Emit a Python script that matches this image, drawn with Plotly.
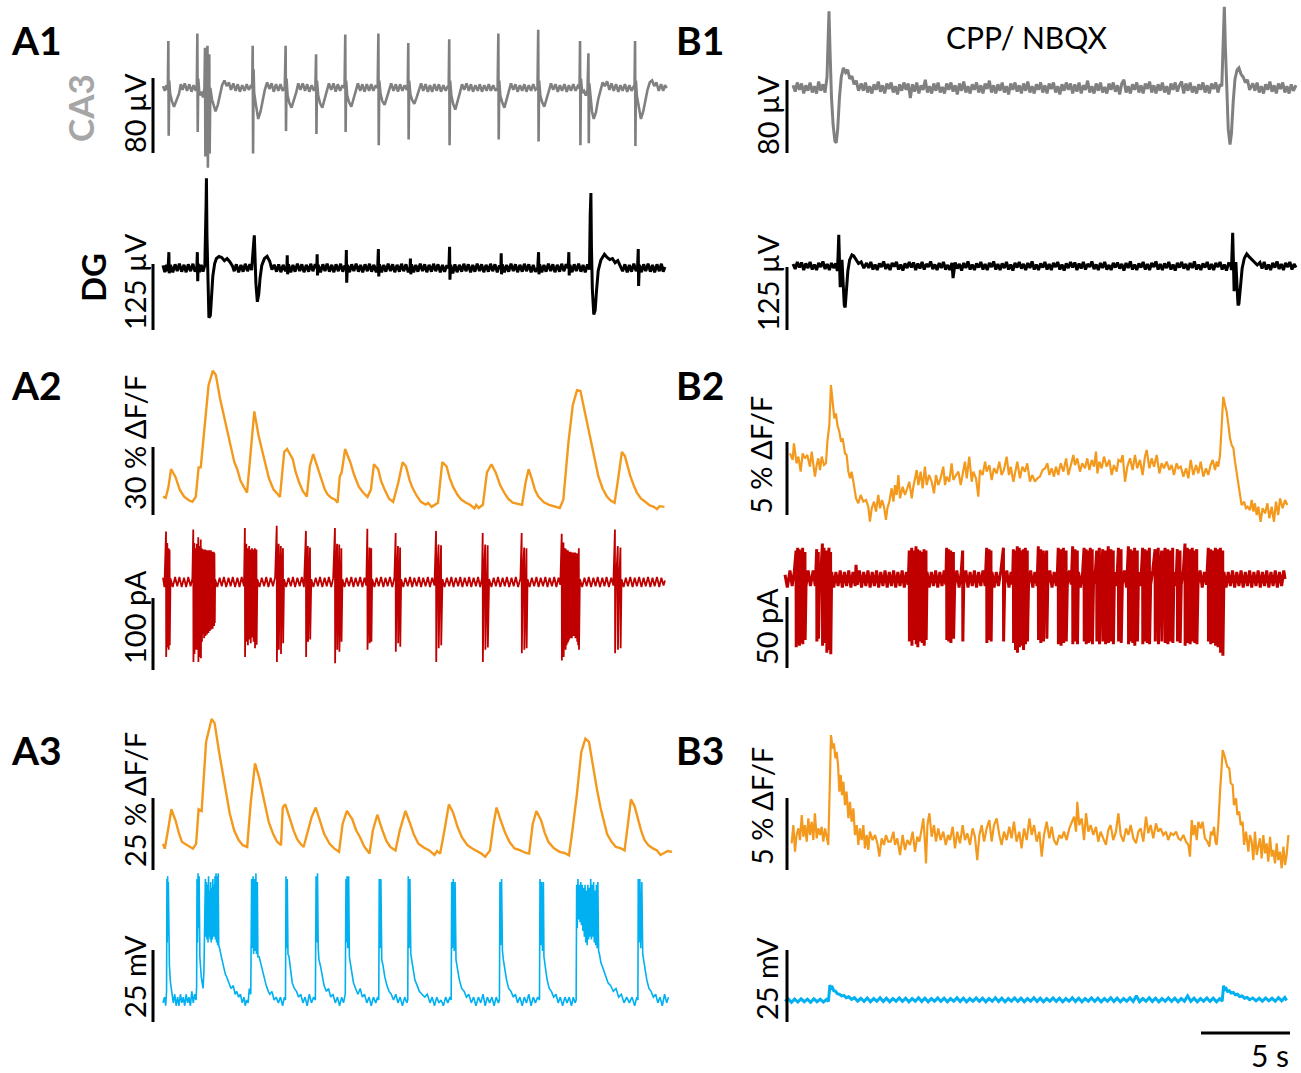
import plotly.graph_objects as go

W, H = 1301, 1073

# ---------------- data (time in s, values in physical units) ----------------
A1_CA3 = [(0.00, 2), (0.10, -3), (0.20, 3), (0.27, -2),
    (0.30, 50), (0.32, -51), (0.35, 8), (0.40, -6), (0.50, -14), (0.62, -20), (0.75, -14), (0.90, -6), (1.00, 4), (1.10, -2), (1.22, 5), (1.35, -3), (1.48, 4), (1.60, -4), (1.72, 3), (1.84, -3), (1.90, 2),
    (1.93, 58), (1.95, -47), (1.98, 10), (2.05, -8), (2.15, -4), (2.25, -10), (2.33, 0),
    (2.36, 43), (2.38, -73), (2.42, 20), (2.50, 45), (2.52, -85), (2.56, 10), (2.60, 36), (2.62, -70), (2.66, 0), (2.75, -12), (2.85, -20), (2.95, -25), (3.08, -18), (3.20, -8), (3.32, 3), (3.45, 8), (3.58, 2), (3.70, 6), (3.82, -2), (3.95, 5), (4.08, -3), (4.20, 4), (4.32, -4), (4.45, 3), (4.58, -3), (4.70, 4), (4.82, -2), (4.95, 3), (5.01, 0),
    (5.04, 45), (5.06, -70), (5.09, 20), (5.12, -5), (5.22, -18), (5.35, -33), (5.48, -25), (5.60, -12), (5.72, -2), (5.85, 6), (5.98, -1), (6.10, 5), (6.22, -4), (6.35, 4), (6.48, -3), (6.60, 4), (6.72, -3), (6.84, 1),
    (6.89, 45), (6.91, -46), (6.94, 10), (7.00, -8), (7.10, -16), (7.22, -21), (7.35, -14), (7.48, -5), (7.60, 5), (7.72, -2), (7.85, 5), (7.98, -3), (8.10, 4), (8.22, -4), (8.35, 3), (8.48, -3), (8.56, 1),
    (8.60, 36), (8.62, -49), (8.65, 8), (8.72, -8), (8.82, -16), (8.95, -21), (9.08, -12), (9.20, -3), (9.32, 5), (9.45, -2), (9.58, 5), (9.70, -4), (9.82, 4), (9.95, -3), (10.08, 3), (10.20, 0),
    (10.24, 57), (10.26, -47), (10.29, 8), (10.35, -8), (10.45, -15), (10.58, -20), (10.70, -12), (10.82, -3), (10.95, 5), (11.08, -3), (11.20, 4), (11.32, -4), (11.45, 4), (11.58, -3), (11.70, 4), (11.82, -3), (11.95, 3), (12.06, 0),
    (12.10, 58), (12.12, -61), (12.15, 8), (12.22, -6), (12.32, -14), (12.45, -18), (12.58, -10), (12.70, -2), (12.82, 5), (12.95, -3), (13.08, 4), (13.20, -4), (13.32, 4), (13.45, -3), (13.58, 3), (13.70, -2), (13.75, 0),
    (13.78, 48), (13.80, -55), (13.83, 8), (13.90, -7), (14.00, -13), (14.12, -17), (14.25, -10), (14.38, -2), (14.50, 5), (14.62, -3), (14.75, 4), (14.88, -4), (15.00, 3), (15.12, -4), (15.25, 4), (15.38, -3), (15.50, 4), (15.62, -4), (15.75, 3), (15.88, -3), (16.00, 2), (16.05, 0),
    (16.08, 52), (16.10, -61), (16.13, 8), (16.20, -8), (16.30, -17), (16.42, -23), (16.55, -15), (16.68, -5), (16.80, 4), (16.92, -2), (17.05, 5), (17.18, -3), (17.30, 4), (17.42, -4), (17.55, 3), (17.68, -3), (17.80, 4), (17.92, -4), (18.05, 3), (18.18, -3), (18.30, 4), (18.42, -3), (18.55, 3), (18.68, -3), (18.80, 0),
    (18.84, 58), (18.86, -55), (18.89, 8), (18.95, -8), (19.05, -15), (19.18, -21), (19.30, -13), (19.42, -4), (19.55, 5), (19.68, -2), (19.80, 4), (19.92, -4), (20.05, 3), (20.18, -3), (20.30, 4), (20.42, -4), (20.55, 3), (20.68, -3), (20.80, 4), (20.92, -2), (21.04, 0),
    (21.08, 62), (21.10, -57), (21.13, 8), (21.20, -8), (21.30, -15), (21.42, -20), (21.55, -12), (21.68, -3), (21.80, 5), (21.92, -2), (22.05, 4), (22.18, -4), (22.30, 3), (22.42, -3), (22.55, 4), (22.68, -4), (22.80, 3), (22.92, -3), (23.05, 4), (23.18, -3), (23.30, 2), (23.40, 0),
    (23.43, 50), (23.45, -61), (23.48, 10), (23.55, -5), (23.65, -3), (23.75, -8), (23.85, -2), (23.90, 37), (23.92, -59), (23.95, 5), (24.02, -12), (24.10, -25), (24.20, -33), (24.32, -26), (24.45, -12), (24.58, -2), (24.70, 6), (24.82, 2), (24.95, 7), (25.08, -2), (25.20, 5), (25.32, -3), (25.45, 4), (25.58, -4), (25.70, 3), (25.82, -3), (25.95, 4), (26.08, -4), (26.20, 3), (26.32, -3), (26.45, 2), (26.49, 0),
    (26.52, 50), (26.54, -62), (26.57, 8), (26.62, -8), (26.72, -20), (26.85, -33), (26.98, -25), (27.10, -12), (27.22, -2), (27.35, 6), (27.48, 8), (27.60, 2), (27.72, 6), (27.85, -3), (27.98, 4), (28.10, -3), (28.20, 3), (28.30, 0)]

A1_DG = [(0.00, 5), (0.10, -8), (0.20, 6), (0.28, -6),
    (0.33, 30), (0.35, -10), (0.42, 6), (0.55, -8), (0.68, 7), (0.80, -6), (0.92, 8), (1.05, -7), (1.18, 6), (1.30, -8), (1.42, 7), (1.55, -6), (1.68, 8), (1.80, -7), (1.90, 0),
    (1.93, 30), (1.95, -25), (1.98, 8), (2.05, -8), (2.15, 6), (2.25, -7), (2.35, 5),
    (2.42, 120), (2.44, 170), (2.47, 60), (2.52, -40), (2.58, -94), (2.66, -90), (2.72, -60), (2.80, -15), (2.90, 8), (3.00, 18), (3.15, 22), (3.30, 20), (3.45, 14), (3.60, 18), (3.75, 12), (3.90, 4), (4.00, -6), (4.12, 7), (4.25, -8), (4.38, 6), (4.50, -7), (4.62, 8), (4.75, -6), (4.88, 7), (4.98, -4),
    (5.05, 20), (5.10, 50), (5.13, 62), (5.16, 10), (5.22, -30), (5.30, -64), (5.38, -50), (5.45, -20), (5.55, 5), (5.70, 18), (5.85, 22), (6.00, 12), (6.12, -3), (6.25, 6), (6.38, -7), (6.50, 7), (6.62, -8), (6.75, 6), (6.88, -6), (6.96, 0),
    (6.98, 24), (7.00, -12), (7.05, 7), (7.18, -8), (7.30, 6), (7.42, -7), (7.55, 8), (7.68, -6), (7.80, 7), (7.92, -8), (8.05, 6), (8.18, -7), (8.30, 8), (8.42, -6), (8.55, 7), (8.64, 0),
    (8.66, 26), (8.68, -14), (8.72, 6), (8.85, -8), (8.98, 7), (9.10, -6), (9.22, 8), (9.35, -7), (9.48, 6), (9.60, -8), (9.72, 7), (9.85, -6), (9.98, 8), (10.10, -7), (10.22, 5), (10.28, 0),
    (10.30, 34), (10.32, -28), (10.36, 6), (10.48, -8), (10.60, 7), (10.72, -6), (10.85, 8), (10.98, -7), (11.10, 6), (11.22, -8), (11.35, 7), (11.48, -6), (11.60, 8), (11.72, -7), (11.85, 6), (11.98, -8), (12.06, 0),
    (12.10, 36), (12.12, -16), (12.16, 7), (12.28, -8), (12.40, 6), (12.52, -7), (12.65, 8), (12.78, -6), (12.90, 7), (13.02, -8), (13.15, 6), (13.28, -7), (13.40, 8), (13.52, -6), (13.65, 7), (13.78, -8), (13.88, 0),
    (13.90, 18), (13.92, -12), (13.96, 7), (14.08, -8), (14.20, 6), (14.32, -7), (14.45, 8), (14.58, -6), (14.70, 7), (14.82, -8), (14.95, 6), (15.08, -7), (15.20, 8), (15.32, -6), (15.45, 7), (15.58, -8), (15.70, 6), (15.82, -7), (15.95, 5), (16.06, 0),
    (16.10, 40), (16.12, -22), (16.16, 6), (16.28, -10), (16.40, 7), (16.52, -8), (16.65, 6), (16.78, -7), (16.90, 8), (17.02, -6), (17.15, 7), (17.28, -8), (17.40, 6), (17.52, -7), (17.65, 8), (17.78, -6), (17.90, 7), (18.02, -8), (18.15, 6), (18.28, -7), (18.40, 8), (18.52, -6), (18.65, 7), (18.78, -8), (18.90, 5), (18.98, 0),
    (19.00, 28), (19.02, -12), (19.06, 7), (19.18, -8), (19.30, 6), (19.42, -7), (19.55, 8), (19.68, -6), (19.80, 7), (19.92, -8), (20.05, 6), (20.18, -7), (20.30, 8), (20.42, -6), (20.55, 7), (20.68, -8), (20.80, 6), (20.92, -7), (21.05, 0),
    (21.10, 30), (21.12, -12), (21.16, 7), (21.28, -8), (21.40, 6), (21.52, -7), (21.65, 8), (21.78, -6), (21.90, 7), (22.02, -8), (22.15, 6), (22.28, -7), (22.40, 8), (22.52, -6), (22.65, 7), (22.76, 0),
    (22.80, 30), (22.82, -14), (22.86, 6), (22.98, -8), (23.10, 7), (23.22, -6), (23.35, 8), (23.48, -7), (23.60, 6), (23.72, -8), (23.85, 7), (23.96, -3),
    (24.00, 100), (24.04, 142), (24.07, 40), (24.12, -40), (24.20, -88), (24.28, -80), (24.35, -45), (24.45, -5), (24.60, 15), (24.80, 26), (24.95, 20), (25.10, 16), (25.25, 18), (25.40, 10), (25.55, 14), (25.70, 4), (25.82, -6), (25.95, 7), (26.08, -8), (26.20, 6), (26.32, -7), (26.45, 8), (26.58, -6), (26.66, 0),
    (26.70, 36), (26.72, -34), (26.76, 6), (26.88, -8), (27.00, 7), (27.12, -6), (27.25, 8), (27.38, -7), (27.50, 6), (27.62, -8), (27.75, 7), (27.88, -6), (28.00, 8), (28.10, -7), (28.20, 2)]

A2_CA = [(0.00, 8.1), (0.15, 7.6), (0.30, 12.0), (0.45, 20.2), (0.69, 17.0), (0.94, 11.2), (1.19, 8.1), (1.32, 7.2), (1.45, 6.5), (1.65, 5.8), (1.84, 8.0), (2.00, 21.0), (2.12, 21.0), (2.31, 36.7), (2.56, 57.3), (2.80, 63.6), (2.97, 61.8), (3.20, 51.5), (3.45, 42.6), (3.62, 36.0), (3.81, 29.1), (4.00, 23.5), (4.17, 20.2), (4.35, 15.2), (4.53, 12.5), (4.72, 9.9),
    (4.89, 24.6), (5.13, 45.7), (5.37, 35.0), (5.55, 28.5), (5.73, 23.3), (5.95, 16.2), (6.21, 11.2), (6.40, 9.6), (6.57, 8.0), (6.81, 27.8), (6.97, 29.1), (7.29, 24.6), (7.45, 19.0), (7.65, 14.3), (7.85, 10.6), (8.08, 8.1),
    (8.25, 21.5), (8.44, 26.9), (8.72, 20.2), (8.90, 15.0), (9.09, 11.2), (9.25, 9.0), (9.45, 7.6), (9.65, 6.9), (9.81, 5.4), (9.93, 17.0), (10.04, 18.8), (10.23, 29.1), (10.52, 23.3), (10.75, 17.4), (11.00, 12.5), (11.25, 9.8), (11.49, 8.0),
    (11.68, 11.2), (11.85, 22.4), (12.09, 20.2), (12.25, 15.0), (12.45, 11.2), (12.70, 7.2), (12.93, 5.8), (13.22, 14.3), (13.46, 23.3), (13.65, 21.5), (13.85, 15.5), (14.01, 12.1), (14.25, 8.5), (14.49, 5.8), (14.75, 4.6), (14.90, 5.3), (15.09, 3.6), (15.30, 4.8), (15.45, 5.4),
    (15.69, 23.3), (15.93, 21.5), (16.10, 16.5), (16.29, 12.5), (16.55, 8.8), (16.77, 6.7), (17.00, 5.5), (17.25, 4.5), (17.50, 2.9), (17.60, 4.4), (17.73, 3.1), (17.97, 4.5), (18.20, 18.8), (18.45, 22.4), (18.69, 18.8), (18.95, 13.0), (19.17, 9.9), (19.40, 7.1), (19.65, 5.4), (19.90, 5.0), (20.17, 4.5),
    (20.37, 14.3), (20.54, 20.2), (20.73, 15.7), (20.90, 11.0), (21.09, 8.1), (21.40, 5.6), (21.69, 4.5), (22.00, 3.8), (22.29, 3.1), (22.49, 6.7), (22.78, 32.3), (23.02, 48.4), (23.26, 55.1), (23.45, 54.7), (23.74, 43.9), (24.10, 29.1), (24.30, 22.0), (24.46, 17.0), (24.70, 11.6), (24.94, 8.1), (25.15, 6.4), (25.37, 5.4),
    (25.54, 14.3), (25.78, 27.8), (25.95, 26.0), (26.26, 17.0), (26.45, 13.0), (26.62, 9.9), (26.85, 7.3), (27.10, 5.8), (27.35, 4.2), (27.58, 3.6), (27.75, 2.6), (27.90, 3.9), (28.17, 3.6)]

A2_PA = [(0.00, 6), (0.08, -7),
    (0.17, 70), (0.18, -104), (0.21, 6), (0.24, 54), (0.25, -91), (0.28, 5), (0.31, 47), (0.32, -94), (0.35, -6), (0.37, 45), (0.38, -88), (0.42, 5),
    (0.55, -7), (0.68, 7), (0.80, -6), (0.92, 7), (1.05, -7), (1.18, 6), (1.30, -7), (1.42, 7), (1.55, -6), (1.65, 5),
    (1.70, 73), (1.71, -111), (1.74, 6), (1.76, 54), (1.77, -100), (1.80, -5), (1.82, 47), (1.83, -94), (1.86, 6), (1.90, 53), (1.91, -94), (1.94, -6), (1.98, 62), (1.99, -111), (2.02, 6), (2.05, 50), (2.06, -104), (2.09, -5), (2.12, 59), (2.13, -106), (2.15, 0),
    (2.17, 47), (2.19, -83), (2.21, 45), (2.23, -80), (2.25, 42), (2.27, -73), (2.29, 45), (2.31, -78), (2.33, 44), (2.35, -71), (2.37, 45), (2.39, -75), (2.41, 42), (2.43, -68), (2.45, 44), (2.47, -73), (2.49, 42), (2.51, -66), (2.53, 44), (2.55, -71), (2.57, 42), (2.59, -65), (2.61, 44), (2.63, -68), (2.65, 42), (2.67, -64), (2.69, 44), (2.71, -66), (2.73, 41), (2.75, -61), (2.77, 42), (2.79, -65), (2.81, 41), (2.83, -59), (2.85, 42), (2.87, -61), (2.89, 40), (2.91, -57), (2.93, 4),
    (3.05, -7), (3.18, 6), (3.30, -6), (3.42, 7), (3.55, -7), (3.68, 6), (3.80, -6), (3.92, 7), (4.05, -7), (4.18, 6), (4.30, -7), (4.42, 7), (4.55, -6),
    (4.60, 75), (4.61, -104), (4.64, 6), (4.68, 53), (4.69, -83), (4.72, -5), (4.76, 47), (4.77, -88), (4.80, 5), (4.84, 50), (4.85, -80), (4.88, -4), (4.92, 45), (4.93, -85), (4.96, 5), (5.00, 47), (5.01, -77), (5.04, -5), (5.08, 45), (5.09, -83), (5.12, 5), (5.16, 47), (5.17, -92), (5.20, -4), (5.25, 45), (5.26, -87), (5.30, 4),
    (5.42, -7), (5.55, 6), (5.68, -6), (5.80, 7), (5.92, -7), (6.05, 6), (6.18, -6), (6.30, 7),
    (6.39, 78), (6.40, -111), (6.44, 6), (6.50, 53), (6.51, -94), (6.55, -5), (6.62, 50), (6.63, -100), (6.67, 5), (6.74, 47), (6.75, -85), (6.80, 4),
    (6.92, -7), (7.05, 6), (7.18, -6), (7.30, 7), (7.42, -7), (7.55, 6), (7.68, -6), (7.80, 7), (7.92, -7),
    (8.03, 71), (8.04, -104), (8.08, 5), (8.14, 50), (8.15, -83), (8.20, -5), (8.26, 48), (8.27, -80), (8.33, 4),
    (8.45, -7), (8.58, 6), (8.70, -6), (8.82, 7), (8.95, -7), (9.08, 6), (9.20, -6), (9.32, 7), (9.45, -7), (9.56, 5),
    (9.66, 75), (9.67, -113), (9.71, 6), (9.78, 53), (9.79, -94), (9.84, -5), (9.90, 52), (9.91, -97), (9.96, 5), (10.02, 47), (10.03, -83), (10.08, 4),
    (10.20, -7), (10.32, 6), (10.45, -6), (10.58, 7), (10.70, -7), (10.82, 6), (10.95, -6), (11.08, 7), (11.20, -7), (11.32, 6), (11.42, -5),
    (11.48, 74), (11.49, -94), (11.54, 5), (11.60, 48), (11.61, -85), (11.66, -5), (11.70, 47), (11.71, -83), (11.75, 4),
    (11.88, -7), (12.00, 6), (12.12, -6), (12.25, 7), (12.38, -7), (12.50, 6), (12.62, -6), (12.75, 7), (12.88, -7), (13.00, 6),
    (13.07, 68), (13.08, -97), (13.13, 5), (13.20, 50), (13.21, -85), (13.27, -5), (13.32, 48), (13.33, -90), (13.38, 4),
    (13.50, -7), (13.62, 6), (13.75, -6), (13.88, 7), (14.00, -7), (14.12, 6), (14.25, -6), (14.38, 7), (14.50, -7), (14.62, 6), (14.75, -6), (14.88, 7), (15.00, -7), (15.12, 6), (15.25, -5),
    (15.34, 71), (15.35, -111), (15.40, 6), (15.48, 52), (15.49, -92), (15.55, -5), (15.62, 51), (15.63, -88), (15.70, 4),
    (15.82, -7), (15.95, 6), (16.08, -6), (16.20, 7), (16.32, -7), (16.45, 6), (16.58, -6), (16.70, 7), (16.82, -7), (16.95, 6), (17.08, -6), (17.20, 7), (17.32, -7), (17.45, 6), (17.58, -6), (17.70, 7), (17.82, -7), (17.92, 5),
    (17.96, 68), (17.97, -111), (18.02, 6), (18.10, 52), (18.11, -94), (18.17, -5), (18.24, 51), (18.25, -91), (18.32, 4),
    (18.45, -7), (18.58, 6), (18.70, -6), (18.82, 7), (18.95, -7), (19.08, 6), (19.20, -6), (19.32, 7), (19.45, -7), (19.58, 6), (19.70, -6), (19.82, 7), (19.95, -7), (20.08, 5),
    (20.15, 68), (20.16, -99), (20.21, 6), (20.29, 48), (20.30, -94), (20.36, -5), (20.42, 47), (20.43, -92), (20.48, 4),
    (20.60, -7), (20.72, 6), (20.85, -6), (20.98, 7), (21.10, -7), (21.22, 6), (21.35, -6), (21.48, 7), (21.60, -7), (21.72, 6), (21.85, -6), (21.98, 7), (22.10, -7), (22.22, 6), (22.32, -4),
    (22.40, 67), (22.41, -109), (22.45, 5), (22.50, 55), (22.51, -104), (22.55, -4), (22.60, 47), (22.62, -94), (22.65, 45), (22.67, -88), (22.70, 42), (22.72, -85), (22.75, 44), (22.77, -83), (22.80, 42), (22.82, -80), (22.85, 41), (22.87, -78), (22.90, 42), (22.92, -75), (22.95, 41), (22.97, -78), (23.00, 40), (23.02, -73), (23.05, 41), (23.07, -75), (23.10, 40), (23.12, -71), (23.15, 41), (23.17, -78), (23.20, 39), (23.22, -73), (23.25, 40), (23.27, -83), (23.30, 39), (23.32, -88), (23.36, 47), (23.37, -94), (23.42, 4),
    (23.55, -7), (23.68, 6), (23.80, -6), (23.92, 7), (24.05, -7), (24.18, 6), (24.30, -6), (24.42, 7), (24.55, -7), (24.68, 6), (24.80, -6), (24.92, 7), (25.05, -7), (25.18, 6), (25.30, -5),
    (25.39, 73), (25.40, -99), (25.46, 6), (25.55, 50), (25.56, -94), (25.62, -5), (25.70, 48), (25.71, -92), (25.76, 4),
    (25.88, -7), (26.00, 6), (26.12, -6), (26.25, 7), (26.38, -7), (26.50, 6), (26.62, -6), (26.75, 7), (26.88, -7), (27.00, 6), (27.12, -6), (27.25, 7), (27.38, -7), (27.50, 6), (27.62, -6), (27.75, 7), (27.88, -7), (28.00, 6), (28.12, -5), (28.20, 2)]

A3_CA = [(0.00, 9.1), (0.10, 7.4), (0.30, 14.5), (0.47, 21.1), (0.71, 17.1), (0.90, 12.6), (1.07, 9.7), (1.30, 8.8), (1.50, 7.9), (1.68, 7.4), (1.86, 9.1), (2.00, 21.1), (2.17, 20.5), (2.42, 44.5), (2.73, 52.4), (2.90, 51.0), (3.15, 41.0), (3.51, 27.4), (3.75, 19.6), (4.00, 13.7), (4.25, 10.4), (4.48, 8.6), (4.73, 8.0),
    (4.92, 22.8), (5.17, 37.0), (5.41, 31.9), (5.75, 21.7), (5.95, 16.4), (6.19, 12.5), (6.40, 9.9), (6.63, 8.6), (6.73, 21.7), (6.87, 22.8), (7.15, 17.1), (7.35, 13.5), (7.53, 10.8), (7.70, 9.3), (7.90, 8.0),
    (8.34, 18.2), (8.58, 21.7), (8.82, 17.1), (9.05, 12.6), (9.36, 9.1), (9.60, 7.6), (9.89, 6.3), (10.09, 16.0), (10.33, 20.5), (10.63, 17.7), (10.85, 13.8), (11.07, 11.4), (11.30, 8.2), (11.60, 5.7),
    (11.79, 13.7), (12.04, 19.2), (12.33, 13.7), (12.55, 10.1), (12.77, 8.0), (13.06, 6.8), (13.30, 13.7), (13.62, 20.5), (13.86, 16.5), (14.10, 12.2), (14.35, 9.1), (14.65, 7.8), (14.96, 6.8), (15.25, 5.2), (15.40, 6.6), (15.57, 5.7),
    (15.81, 13.7), (16.06, 22.8), (16.30, 19.9), (16.55, 14.9), (16.79, 11.4), (17.10, 8.6), (17.40, 7.4), (17.65, 6.5), (17.89, 5.7), (18.10, 4.6), (18.37, 6.8), (18.57, 16.0), (18.74, 21.7), (18.98, 17.1), (19.22, 12.9), (19.47, 9.7), (19.75, 7.5), (20.08, 6.8), (20.35, 6.0), (20.57, 5.7),
    (20.77, 16.0), (20.98, 20.5), (21.25, 17.1), (21.45, 12.8), (21.66, 9.7), (21.95, 7.6), (22.27, 6.3), (22.55, 5.9), (22.81, 5.1), (23.00, 13.7), (23.25, 26.2), (23.50, 41.0), (23.73, 45.6), (23.93, 44.5), (24.17, 35.4), (24.38, 28.0), (24.58, 21.7), (24.78, 16.5), (24.95, 12.5), (25.20, 9.8), (25.44, 8.0), (25.70, 7.6), (25.93, 6.8),
    (26.12, 16.0), (26.29, 24.5), (26.49, 22.2), (26.70, 17.0), (26.86, 13.7), (27.05, 10.4), (27.26, 8.6), (27.50, 7.6), (27.75, 6.8), (27.95, 5.2), (28.12, 5.7), (28.35, 6.6), (28.60, 6.3)]

A3_MV = [(0.00, -1), (0.08, 1), (0.15, -2),
    (0.20, 3), (0.22, 42), (0.24, 20), (0.26, 43), (0.28, 22), (0.30, 41), (0.32, 17), (0.36, 12), (0.42, 6), (0.50, 2), (0.58, -1), (0.66, 2), (0.74, -2), (0.82, 1), (0.90, -2), (0.98, 2), (1.06, -1), (1.14, 1), (1.22, -2), (1.30, 2), (1.38, -1), (1.46, 1), (1.54, -2), (1.62, 3), (1.70, -1), (1.78, 2), (1.86, 0),
    (1.89, 5), (1.91, 42), (1.94, 20), (1.97, 44), (2.00, 25), (2.03, 43), (2.07, 15), (2.15, 8), (2.25, 4), (2.30, 10), (2.36, 30), (2.38, 42), (2.41, 22), (2.44, 41), (2.47, 21), (2.50, 40), (2.53, 20), (2.56, 43), (2.59, 22), (2.62, 38), (2.65, 21), (2.68, 41), (2.71, 20), (2.74, 39), (2.77, 21), (2.80, 42), (2.83, 22), (2.86, 40), (2.89, 22), (2.92, 43), (2.95, 21), (2.98, 44), (3.01, 20), (3.04, 43), (3.07, 19), (3.10, 44), (3.13, 19), (3.18, 18), (3.28, 15), (3.40, 11), (3.50, 9), (3.58, 8), (3.70, 6), (3.82, 4), (3.95, 5), (4.05, 2), (4.14, 3), (4.25, 1), (4.35, 2), (4.45, -1), (4.55, 1), (4.62, -2), (4.70, 0), (4.78, -1), (4.85, 4), (4.93, 2),
    (4.98, 42), (5.00, 18), (5.06, 43), (5.09, 16), (5.14, 42), (5.17, 17), (5.22, 44), (5.25, 16), (5.30, 41), (5.33, 15), (5.40, 15), (5.48, 13), (5.58, 10), (5.68, 8), (5.80, 5), (5.92, 3), (6.00, 2), (6.12, 3), (6.24, 0), (6.36, 1), (6.48, -1), (6.60, 1), (6.72, -2), (6.82, 1), (6.88, 0),
    (6.91, 43), (6.94, 18), (6.98, 42), (7.02, 16), (7.08, 15), (7.16, 10), (7.26, 6), (7.38, 4), (7.50, 3), (7.62, 1), (7.74, 2), (7.86, -1), (7.98, 1), (8.10, -2), (8.22, 2), (8.34, -1), (8.46, 1), (8.56, 0),
    (8.60, 43), (8.63, 20), (8.68, 44), (8.72, 18), (8.76, 14), (8.84, 12), (8.94, 8), (9.05, 5), (9.18, 3), (9.30, 4), (9.42, 1), (9.55, 2), (9.68, -1), (9.80, 1), (9.92, -2), (10.04, 1), (10.14, -1), (10.24, 2),
    (10.28, 42), (10.31, 20), (10.34, 43), (10.38, 18), (10.43, 43), (10.47, 15), (10.52, 13), (10.60, 10), (10.70, 6), (10.82, 4), (10.95, 2), (11.08, 4), (11.20, 1), (11.32, 2), (11.45, -1), (11.58, 1), (11.70, -2), (11.82, 1), (11.95, -1), (12.06, 1), (12.12, 0),
    (12.15, 42), (12.19, 18), (12.24, 42), (12.29, 14), (12.36, 12), (12.46, 8), (12.58, 5), (12.70, 3), (12.82, 2), (12.95, 0), (13.08, 2), (13.20, -1), (13.32, 1), (13.45, -2), (13.58, 1), (13.70, -1), (13.75, 0),
    (13.78, 43), (13.82, 18), (13.87, 42), (13.92, 16), (13.97, 14), (14.05, 10), (14.15, 7), (14.28, 5), (14.40, 3), (14.55, 2), (14.70, 1), (14.85, 2), (15.00, -1), (15.12, 1), (15.25, -2), (15.38, 1), (15.50, -1), (15.62, 0), (15.75, -2), (15.88, 1), (16.00, -1), (16.12, 1), (16.19, 0),
    (16.22, 41), (16.26, 18), (16.31, 42), (16.36, 17), (16.41, 41), (16.46, 14), (16.54, 11), (16.65, 7), (16.78, 4), (16.92, 3), (17.05, 1), (17.18, 2), (17.32, -1), (17.45, 1), (17.58, -2), (17.72, 1), (17.85, -1), (17.98, 2), (18.10, -2), (18.22, 1), (18.35, -1), (18.48, 1), (18.60, -2), (18.72, 1), (18.84, -1), (18.90, 0),
    (18.93, 41), (18.97, 19), (19.02, 42), (19.07, 17), (19.12, 14), (19.20, 10), (19.30, 7), (19.42, 4), (19.55, 3), (19.68, 1), (19.80, 2), (19.92, -1), (20.05, 1), (20.18, -2), (20.30, 1), (20.42, -1), (20.55, 2), (20.68, -2), (20.80, 1), (20.92, -1), (21.05, 1), (21.15, 0),
    (21.18, 42), (21.22, 19), (21.27, 41), (21.32, 17), (21.37, 41), (21.40, 15), (21.48, 11), (21.58, 7), (21.70, 4), (21.82, 3), (21.95, 1), (22.08, 2), (22.20, -1), (22.32, 1), (22.45, -2), (22.58, 1), (22.70, -1), (22.82, 1), (22.95, -2), (23.05, 1), (23.15, -1), (23.21, 0),
    (23.24, 40), (23.27, 25), (23.31, 42), (23.35, 28), (23.39, 40), (23.43, 27), (23.47, 41), (23.51, 26), (23.55, 40), (23.59, 24), (23.63, 39), (23.67, 22), (23.71, 40), (23.75, 20), (23.79, 38), (23.83, 19), (23.87, 40), (23.91, 21), (23.95, 39), (23.99, 22), (24.03, 42), (24.07, 21), (24.11, 40), (24.15, 22), (24.19, 41), (24.23, 20), (24.27, 38), (24.31, 19), (24.35, 40), (24.39, 18), (24.43, 41), (24.47, 17), (24.52, 16), (24.60, 13), (24.72, 11), (24.85, 9), (25.00, 6), (25.15, 5), (25.30, 3), (25.45, 4), (25.60, 1), (25.75, 2), (25.90, -1), (26.05, 1), (26.20, -1), (26.35, 1), (26.50, -2), (26.62, 1), (26.68, 0),
    (26.70, 42), (26.74, 20), (26.79, 42), (26.84, 18), (26.90, 41), (26.95, 16), (27.00, 14), (27.08, 10), (27.18, 7), (27.30, 4), (27.42, 3), (27.55, 1), (27.68, 2), (27.80, -1), (27.92, 1), (28.05, -2), (28.18, 2), (28.30, -1), (28.40, 1)]

B1_CA3 = [(0.17, 3), (0.29, -4), (0.41, 6), (0.53, -2), (0.65, 5), (0.77, -6), (0.89, 3), (1.01, -3), (1.13, 6), (1.25, -5), (1.37, 2), (1.49, -6), (1.61, 7), (1.73, -3), (1.85, 4), (1.97, -5),
    (2.08, 12), (2.14, 50), (2.19, 84), (2.25, 40), (2.33, -10), (2.42, -40), (2.52, -58), (2.60, -60), (2.68, -45), (2.78, -10), (2.88, 12), (3.00, 22), (3.12, 17), (3.24, 20), (3.36, 10), (3.48, 13), (3.60, 4), (3.72, 8), (3.85, -3),
    (4.00, 5), (4.12, -3), (4.24, 6), (4.36, -5), (4.48, 2), (4.60, -6), (4.72, 4), (4.84, -2), (4.96, 7), (5.08, -4), (5.20, 3), (5.32, -6), (5.44, 5), (5.56, -1), (5.68, 6), (5.80, -5), (5.92, 2), (6.04, -7), (6.16, 4), (6.28, -3), (6.40, 6), (6.52, -2), (6.64, 5), (6.76, -11), (6.88, 4), (7.00, -4), (7.12, 6), (7.24, -6), (7.36, 3), (7.48, -2), (7.60, 9), (7.72, -5), (7.84, 2), (7.96, -6),
    (8.08, 5), (8.20, -3), (8.32, 6), (8.44, -5), (8.56, 1), (8.68, -6), (8.80, 5), (8.92, -2), (9.04, 6), (9.16, -4), (9.28, 3), (9.40, -7), (9.52, 5), (9.64, -3), (9.76, 7), (9.88, -5), (10.00, 2), (10.12, -6), (10.24, 4), (10.36, -2), (10.48, 6), (10.60, -5), (10.72, 3), (10.84, -6), (10.96, 5), (11.08, -1), (11.20, 8), (11.32, -5), (11.44, 3), (11.56, -6), (11.68, 4), (11.80, -3), (11.92, 6),
    (12.04, -5), (12.16, 2), (12.28, -7), (12.40, 5), (12.52, -2), (12.64, 6), (12.76, -4), (12.88, 3), (13.00, -6), (13.12, 5), (13.24, -3), (13.36, 7), (13.48, -5), (13.60, 2), (13.72, -6), (13.84, 4), (13.96, -2), (14.08, 6), (14.20, -5), (14.32, 3), (14.44, -6), (14.56, 5), (14.68, -1), (14.80, 6), (14.92, -5), (15.04, 2), (15.16, -7), (15.28, 4), (15.40, -3), (15.52, 6), (15.64, -2), (15.76, 5), (15.88, -6),
    (16.00, 4), (16.12, -4), (16.24, 6), (16.36, -6), (16.48, 3), (16.60, -2), (16.72, 8), (16.84, -5), (16.96, 2), (17.08, -6), (17.20, 5), (17.32, -3), (17.44, 6), (17.56, -5), (17.68, 1), (17.80, -6), (17.92, 5), (18.04, -2), (18.16, 6), (18.28, -4), (18.40, 3), (18.52, -7), (18.64, 5), (18.76, 9), (18.88, -5), (19.00, 2), (19.12, -6), (19.24, 4), (19.36, -2), (19.48, 6), (19.60, -5), (19.72, 3), (19.84, -6), (19.96, 5),
    (20.08, -1), (20.20, 7), (20.32, -5), (20.44, 3), (20.56, -6), (20.68, 4), (20.80, -3), (20.92, 6), (21.04, -5), (21.16, 2), (21.28, -7), (21.40, 5), (21.52, -2), (21.64, 6), (21.76, -4), (21.88, 3), (22.00, 7), (22.12, -6), (22.24, 5), (22.36, -3), (22.48, 6), (22.60, -5), (22.72, 2), (22.84, -6), (22.96, 4), (23.08, -2), (23.20, 6), (23.32, -5), (23.44, 3), (23.56, -6), (23.68, 5), (23.80, -1), (23.92, 6), (24.04, -5), (24.16, 4), (24.26, 2),
    (24.32, 40), (24.40, 89), (24.46, 45), (24.54, -10), (24.62, -45), (24.72, -62), (24.80, -50), (24.90, -15), (25.00, 10), (25.12, 20), (25.22, 22), (25.34, 15), (25.46, 12), (25.58, 6), (25.70, 9), (25.82, -2),
    (26.00, 5), (26.12, -3), (26.24, 6), (26.36, -5), (26.48, 2), (26.60, -6), (26.72, 4), (26.84, -2), (26.96, 7), (27.08, -4), (27.20, 3), (27.32, -6), (27.44, 5), (27.56, -1), (27.68, 6), (27.80, -5), (27.92, 2), (28.04, -6), (28.16, 4), (28.28, -3), (28.43, 3)]

B1_DG = [(0.17, 4), (0.29, -6), (0.41, 8), (0.53, -3), (0.65, 7), (0.77, -8), (0.89, 5), (1.01, -4), (1.13, 8), (1.25, -7), (1.37, 3), (1.49, -8), (1.61, 6), (1.73, -2), (1.85, 9), (1.97, -6), (2.09, 4), (2.21, -8), (2.33, 6), (2.45, -4), (2.57, 5),
    (2.66, -10), (2.70, 20), (2.74, 62), (2.78, 10), (2.82, -42), (2.87, -10), (2.92, 12), (2.98, -30), (3.05, -78), (3.10, -82), (3.16, -50), (3.25, -10), (3.35, 12), (3.48, 22), (3.58, 20), (3.70, 12), (3.85, 5), (4.00, 8), (4.15, -4),
    (4.30, 6), (4.42, -4), (4.54, 8), (4.66, -7), (4.78, 3), (4.90, -8), (5.02, 5), (5.14, -2), (5.26, 9), (5.38, -6), (5.50, 4), (5.62, -8), (5.74, 6), (5.86, -1), (5.98, 8), (6.10, -7), (6.22, 3), (6.34, -9), (6.46, 5), (6.58, -4), (6.70, 8), (6.82, -3), (6.94, 7), (7.06, -8), (7.18, 5), (7.30, -5), (7.42, 8), (7.54, -7), (7.66, 4), (7.78, -2), (7.90, 9),
    (8.02, -6), (8.14, 3), (8.26, -8), (8.38, 6), (8.50, -4), (8.62, 8), (8.74, -7), (8.86, 2), (8.98, -8), (9.10, 6), (9.16, -24), (9.28, 7), (9.40, -5), (9.52, 4), (9.64, -9), (9.76, 6), (9.88, -4), (10.00, 9), (10.12, -7), (10.24, 3), (10.36, -8), (10.48, 5), (10.60, -3), (10.72, 8), (10.84, -7), (10.96, 4), (11.08, -8), (11.20, 6), (11.32, -2), (11.44, 9), (11.56, -7), (11.68, 4), (11.80, -8), (11.92, 5),
    (12.04, -4), (12.16, 8), (12.28, -7), (12.40, 3), (12.52, -9), (12.64, 6), (12.76, -3), (12.88, 8), (13.00, -5), (13.12, 4), (13.24, -8), (13.36, 6), (13.48, -4), (13.60, 9), (13.72, -7), (13.84, 3), (13.96, -8), (14.08, 5), (14.20, -3), (14.32, 8), (14.44, -7), (14.56, 4), (14.68, -8), (14.80, 6), (14.92, -2), (15.04, 8), (15.16, -7), (15.28, 3), (15.40, -9), (15.52, 5), (15.64, -4), (15.76, 8), (15.88, -3),
    (16.00, 7), (16.12, -8), (16.24, 5), (16.36, -5), (16.48, 8), (16.60, -7), (16.72, 4), (16.84, -2), (16.96, 9), (17.08, -6), (17.20, 3), (17.32, -8), (17.44, 6), (17.56, -4), (17.68, 8), (17.80, -7), (17.92, 2), (18.04, -8), (18.16, 6), (18.28, -3), (18.40, 7), (18.52, -5), (18.64, 4), (18.76, -9), (18.88, 6), (19.00, -4), (19.12, 9), (19.24, -7), (19.36, 3), (19.48, -8), (19.60, 5), (19.72, -3), (19.84, 8), (19.96, -7),
    (20.08, 4), (20.20, -8), (20.32, 6), (20.44, -2), (20.56, 9), (20.68, -7), (20.80, 4), (20.92, -8), (21.04, 5), (21.16, -4), (21.28, 8), (21.40, -7), (21.52, 3), (21.64, -9), (21.76, 6), (21.88, -3), (22.00, 8), (22.12, -5), (22.24, 4), (22.36, -8), (22.48, 6), (22.60, -4), (22.72, 9), (22.84, -7), (22.96, 3), (23.08, -8), (23.20, 5), (23.32, -3), (23.44, 8), (23.56, -7), (23.68, 4), (23.80, -8), (23.92, 6), (24.04, -2), (24.16, 8), (24.28, -7), (24.40, 3), (24.52, -9), (24.64, 5), (24.76, 4),
    (24.80, -8), (24.84, 30), (24.87, 66), (24.91, 10), (24.95, -50), (25.00, -10), (25.05, 8), (25.10, -30), (25.17, -78), (25.22, -75), (25.30, -40), (25.40, -5), (25.52, 15), (25.66, 24), (25.80, 18), (25.95, 12), (26.10, 8), (26.25, 2),
    (26.40, 7), (26.52, -5), (26.64, 8), (26.76, -7), (26.88, 3), (27.00, -8), (27.12, 6), (27.24, -3), (27.36, 9), (27.48, -6), (27.60, 4), (27.72, -8), (27.84, 6), (27.96, -2), (28.08, 8), (28.20, -7), (28.32, 4), (28.43, -3)]

B2_CA = [(0.00, 4.22), (0.15, 3.77), (0.22, 4.91), (0.37, 3.54), (0.47, 4.00), (0.60, 2.97), (0.71, 4.22), (0.84, 3.88), (0.97, 4.11), (1.12, 3.31), (1.22, 4.34), (1.31, 3.42), (1.40, 2.63), (1.50, 3.42), (1.59, 3.88), (1.69, 3.08), (1.78, 4.00), (1.91, 3.42), (2.02, 3.54),
    (2.10, 5.02), (2.21, 6.17), (2.30, 8.90), (2.40, 7.76), (2.49, 6.62), (2.58, 6.96), (2.66, 6.17), (2.77, 5.71), (2.87, 5.02), (2.96, 5.25), (3.09, 4.22), (3.18, 4.11), (3.28, 2.97), (3.37, 2.51), (3.46, 2.97), (3.56, 2.28), (3.71, 1.14), (3.84, 0.80), (3.97, 1.37),
    (4.12, 0.91), (4.27, 1.03), (4.40, 0.57), (4.49, -0.46), (4.59, 0.46), (4.72, 0.91), (4.83, 0.23), (4.96, 1.37), (5.06, 0.46), (5.17, 1.03), (5.28, 0.57), (5.39, -0.34), (5.47, 0.46), (5.58, 0.91), (5.71, 1.83), (5.81, 0.91), (5.90, 2.05), (5.99, 1.37),
    (6.09, 2.74), (6.18, 1.14), (6.33, 1.94), (6.46, 1.37), (6.59, 1.83), (6.70, 2.28), (6.84, 1.14), (6.93, 1.94), (7.12, 3.08), (7.21, 2.05), (7.34, 2.97), (7.45, 1.83), (7.58, 3.31), (7.68, 2.05), (7.81, 2.74), (7.96, 2.28),
    (8.09, 1.48), (8.20, 2.74), (8.33, 2.05), (8.46, 2.51), (8.61, 3.31), (8.71, 2.05), (8.80, 2.63), (8.95, 2.28), (9.08, 3.54), (9.18, 2.40), (9.33, 2.74), (9.46, 2.97), (9.59, 2.05), (9.70, 2.74), (9.83, 3.65), (9.93, 2.51),
    (10.07, 4.00), (10.21, 2.28), (10.30, 2.97), (10.45, 2.51), (10.58, 1.26), (10.67, 3.08), (10.82, 2.74), (10.96, 3.65), (11.05, 2.97), (11.20, 3.42), (11.33, 2.40), (11.46, 3.20), (11.61, 2.85), (11.76, 3.65), (11.89, 2.74),
    (12.02, 3.08), (12.17, 4.00), (12.30, 2.74), (12.40, 3.31), (12.55, 2.28), (12.64, 2.97), (12.77, 3.65), (12.92, 2.51), (13.05, 3.31), (13.20, 2.97), (13.33, 3.54), (13.48, 2.28), (13.61, 2.74), (13.76, 2.28), (13.90, 2.51),
    (14.04, 2.63), (14.19, 3.08), (14.33, 3.20), (14.46, 3.54), (14.57, 2.74), (14.70, 3.20), (14.83, 2.63), (14.94, 3.31), (15.07, 2.74), (15.21, 3.54), (15.36, 2.97), (15.51, 3.88), (15.64, 2.74), (15.77, 3.31), (15.92, 4.11),
    (16.01, 3.42), (16.14, 3.88), (16.29, 2.97), (16.42, 3.54), (16.57, 3.20), (16.70, 3.88), (16.82, 3.08), (16.95, 3.77), (17.08, 3.31), (17.19, 4.34), (17.27, 2.85), (17.38, 3.65), (17.51, 3.20), (17.64, 4.00), (17.79, 3.31), (17.94, 3.77),
    (18.07, 2.74), (18.20, 3.42), (18.35, 2.97), (18.45, 3.77), (18.58, 3.65), (18.69, 4.11), (18.82, 2.28), (18.95, 3.31), (19.10, 3.88), (19.25, 3.08), (19.38, 4.11), (19.51, 3.20), (19.66, 3.77), (19.81, 2.74), (19.94, 4.00),
    (20.04, 4.45), (20.19, 3.20), (20.32, 3.88), (20.45, 3.31), (20.60, 4.11), (20.75, 2.85), (20.88, 3.54), (21.01, 3.20), (21.16, 3.65), (21.31, 3.08), (21.44, 3.42), (21.57, 2.74), (21.72, 3.54), (21.82, 3.20), (21.95, 3.31),
    (22.10, 2.63), (22.25, 3.20), (22.38, 2.51), (22.51, 3.77), (22.66, 2.74), (22.81, 3.42), (22.94, 2.85), (23.07, 3.65), (23.22, 2.63), (23.37, 3.20), (23.50, 2.74), (23.63, 3.42), (23.75, 3.77), (23.88, 3.08), (23.97, 3.65), (24.06, 3.31), (24.16, 4.11),
    (24.25, 5.94), (24.34, 8.10), (24.44, 7.53), (24.53, 7.08), (24.63, 6.17), (24.72, 5.25), (24.81, 4.80), (24.91, 4.57), (25.00, 3.65), (25.09, 2.97), (25.19, 2.05), (25.28, 1.37), (25.37, 0.68), (25.51, 0.91), (25.62, 0.46), (25.71, 0.57), (25.84, 0.34), (25.94, 1.03),
    (26.03, 0.23), (26.12, 0.80), (26.22, 0.00), (26.31, 0.57), (26.44, -0.46), (26.55, 0.46), (26.69, 0.11), (26.82, 0.80), (26.93, -0.23), (27.06, 0.57), (27.19, -0.46), (27.30, 0.91), (27.43, 0.00), (27.53, 1.14), (27.68, 0.46), (27.81, 1.03), (27.94, 0.68)]

B2_PA = [(-0.28, 3), (-0.15, -6), (0.00, 6), (0.12, -5), (0.24, 5),
    (0.34, 20), (0.35, -48), (0.38, 5), (0.43, 22), (0.44, -46), (0.47, -4), (0.52, 21), (0.53, -47), (0.57, 5), (0.62, 20), (0.63, -45), (0.66, -4), (0.71, 22), (0.72, -46), (0.76, 5), (0.84, 19), (0.85, -43), (0.90, -5),
    (1.02, 6), (1.15, -5), (1.30, 6), (1.42, -5),
    (1.50, 21), (1.51, -44), (1.55, 5), (1.59, 19), (1.60, -42), (1.66, -5), (1.74, 6), (1.82, 25), (1.83, -47), (1.87, 5), (1.91, 22), (1.92, -45), (1.98, -5), (2.06, 20), (2.07, -52), (2.12, 5), (2.19, 22), (2.20, -50), (2.24, -4), (2.28, 19), (2.29, -53), (2.34, 5),
    (2.46, -6), (2.58, 5), (2.70, -5), (2.82, 6), (2.94, -6), (3.06, 5), (3.18, -5), (3.30, 6), (3.42, -6), (3.54, 5), (3.66, -5), (3.71, 10), (3.78, -4), (3.90, 6), (4.02, -6), (4.14, 5), (4.26, -5), (4.38, 6), (4.50, -6), (4.62, 5), (4.74, -5), (4.86, 6), (4.98, -6), (5.10, 5), (5.22, -5), (5.34, 6), (5.46, -6), (5.58, 5), (5.70, -5), (5.82, 6), (5.94, -6), (6.06, 5), (6.18, -5), (6.30, 6), (6.42, -6), (6.54, 5), (6.64, -4),
    (6.70, 20), (6.71, -44), (6.76, 5), (6.84, 22), (6.85, -47), (6.90, -4), (6.97, 20), (6.98, -43), (7.02, 5), (7.08, 23), (7.09, -46), (7.13, -4), (7.17, 21), (7.18, -48), (7.23, 5), (7.30, 20), (7.31, -44), (7.36, -4), (7.42, 19), (7.43, -45), (7.48, 5), (7.53, 21), (7.54, -47), (7.58, -4), (7.64, 20), (7.65, -43), (7.70, 5),
    (7.82, -6), (7.94, 5), (8.06, -5), (8.18, 6), (8.30, -6), (8.42, 5), (8.54, -5), (8.66, 6), (8.75, -4),
    (8.80, 22), (8.81, -43), (8.86, 5), (8.91, 21), (8.92, -44), (8.97, -4), (9.03, 20), (9.04, -45), (9.10, 5), (9.18, 19), (9.19, -42), (9.25, -5), (9.37, 6), (9.50, -6), (9.62, 5), (9.70, 20), (9.71, -44), (9.76, -4),
    (9.88, 6), (10.00, -6), (10.12, 5), (10.24, -5), (10.36, 6), (10.48, -6), (10.60, 5), (10.72, -5), (10.84, 6), (10.96, -5),
    (11.05, 22), (11.06, -45), (11.11, 5), (11.18, 21), (11.19, -43), (11.24, -4), (11.29, 20), (11.30, -44), (11.35, 5), (11.47, -6), (11.59, 5), (11.71, -5), (11.85, 6), (11.99, 22), (12.00, -44), (12.06, -4), (12.18, 6), (12.30, -6), (12.42, 5), (12.50, -4),
    (12.55, 21), (12.56, -45), (12.60, 5), (12.66, 20), (12.67, -50), (12.71, -4), (12.77, 23), (12.78, -52), (12.82, 5), (12.88, 22), (12.89, -48), (12.94, -4), (13.00, 20), (13.01, -47), (13.06, 5), (13.11, 21), (13.12, -50), (13.17, -4), (13.22, 22), (13.23, -46), (13.28, 5), (13.33, 20), (13.34, -44), (13.40, -4),
    (13.52, 6), (13.64, -6), (13.76, 5), (13.88, -5),
    (13.95, 23), (13.96, -43), (14.01, 5), (14.08, 21), (14.09, -45), (14.15, -4), (14.23, 20), (14.24, -44), (14.30, 5), (14.42, 20), (14.43, -42), (14.48, -4), (14.60, 6), (14.72, -6), (14.84, 5), (14.96, -5), (15.02, 4),
    (15.07, 22), (15.08, -46), (15.13, 5), (15.22, 21), (15.23, -47), (15.28, -4), (15.36, 22), (15.37, -45), (15.42, 5), (15.51, 20), (15.52, -44), (15.58, -4), (15.70, 6), (15.80, -4),
    (15.88, 23), (15.89, -46), (15.94, 5), (16.01, 21), (16.02, -44), (16.07, -4), (16.14, 20), (16.15, -46), (16.20, 5), (16.32, -6), (16.44, 5),
    (16.52, 22), (16.53, -44), (16.57, -4), (16.63, 21), (16.64, -46), (16.69, 5), (16.76, 20), (16.77, -45), (16.81, -4), (16.87, 22), (16.88, -44), (16.93, 5), (16.98, 21), (16.99, -46), (17.05, -4), (17.16, 6),
    (17.23, 20), (17.24, -44), (17.30, 5), (17.38, 22), (17.39, -46), (17.45, -4), (17.57, 21), (17.58, -44), (17.64, 5), (17.72, 20), (17.73, -46), (17.79, -4), (17.88, 23), (17.89, -45), (17.95, 5), (18.03, 21), (18.04, -44), (18.09, -4), (18.16, 20), (18.17, -46), (18.23, 5), (18.35, -5),
    (18.45, 22), (18.46, -44), (18.52, 5), (18.60, 21), (18.61, -45), (18.67, -4), (18.79, 6), (18.91, -6),
    (19.01, 23), (19.02, -46), (19.06, 5), (19.12, 21), (19.13, -44), (19.18, -4), (19.25, 20), (19.26, -45), (19.31, 5), (19.36, 22), (19.37, -47), (19.42, -4), (19.51, 20), (19.52, -44), (19.58, 5), (19.70, -5),
    (19.81, 22), (19.82, -46), (19.87, 5), (19.94, 21), (19.95, -44), (20.00, -4), (20.06, 20), (20.07, -45), (20.12, 5), (20.19, 22), (20.20, -46), (20.26, -4), (20.38, 6),
    (20.51, 21), (20.52, -44), (20.58, 5), (20.69, 22), (20.70, -46), (20.76, -4), (20.88, 20), (20.89, -44), (20.95, 5), (21.07, 22), (21.08, -45), (21.14, -4), (21.22, 21), (21.23, -46), (21.28, 5), (21.35, 20), (21.36, -44), (21.42, -4), (21.50, 22), (21.51, -45), (21.57, 5), (21.68, -5),
    (21.76, 21), (21.77, -44), (21.83, 5), (21.91, 20), (21.92, -45), (21.98, -4), (22.10, 6),
    (22.19, 25), (22.20, -47), (22.25, 5), (22.32, 22), (22.33, -45), (22.39, -4), (22.47, 21), (22.48, -46), (22.54, 5), (22.60, 22), (22.61, -44), (22.66, -4), (22.73, 20), (22.74, -45), (22.79, 5), (22.85, 21), (22.86, -46), (22.92, -4), (23.04, 6), (23.16, -6), (23.28, 5), (23.40, -4),
    (23.50, 22), (23.51, -44), (23.56, 5), (23.63, 21), (23.64, -46), (23.70, -4), (23.78, 20), (23.79, -45), (23.84, 5), (23.90, 22), (23.91, -47), (23.97, -4), (24.04, 21), (24.05, -48), (24.11, 5), (24.18, 22), (24.19, -52), (24.25, -4), (24.31, 20), (24.32, -54), (24.38, 5),
    (24.50, -6), (24.62, 5), (24.74, -5), (24.86, 6), (24.98, -6), (25.10, 5), (25.22, -5), (25.34, 6), (25.46, -6), (25.58, 5), (25.70, -5), (25.82, 6), (25.94, -6), (26.06, 5), (26.18, -5), (26.30, 6), (26.42, -6), (26.54, 5), (26.66, -5), (26.78, 6), (26.90, -6), (27.02, 5), (27.14, -5), (27.26, 6), (27.38, -6), (27.50, 5), (27.62, -5), (27.74, 6), (27.81, 0)]

B3_CA = [(0.09, 1.85), (0.19, 3.12), (0.28, 1.27), (0.37, 2.43), (0.47, 2.89), (0.56, 2.08), (0.66, 3.82), (0.75, 2.31), (0.84, 3.12), (0.94, 1.97), (1.03, 3.59), (1.12, 2.43), (1.22, 3.35), (1.31, 2.08), (1.40, 3.94), (1.50, 2.20), (1.59, 2.89), (1.69, 2.43), (1.78, 3.00), (1.87, 1.97), (1.97, 2.89), (2.06, 2.20), (2.15, 1.74),
    (2.25, 6.60), (2.30, 9.37), (2.40, 8.44), (2.47, 8.79), (2.55, 7.75), (2.62, 8.21), (2.70, 7.29), (2.77, 5.44), (2.85, 6.60), (2.92, 5.20), (3.00, 6.13), (3.09, 4.51), (3.18, 5.44), (3.28, 3.59), (3.37, 4.74), (3.46, 3.35), (3.56, 4.28), (3.65, 2.43), (3.75, 3.12), (3.84, 1.74), (3.93, 2.89),
    (4.03, 2.08), (4.12, 3.12), (4.21, 1.50), (4.31, 2.43), (4.40, 1.39), (4.49, 2.66), (4.64, 2.08), (4.78, 2.43), (4.91, 1.85), (5.02, 0.93), (5.15, 2.20), (5.28, 1.74), (5.39, 2.43), (5.52, 1.97), (5.66, 1.97), (5.81, 2.66), (5.90, 1.74),
    (6.03, 2.20), (6.18, 1.04), (6.33, 2.43), (6.46, 1.39), (6.59, 2.08), (6.74, 1.74), (6.89, 2.66), (7.02, 1.27), (7.15, 2.31), (7.27, 1.97), (7.40, 2.89), (7.49, 3.59), (7.58, 1.97), (7.64, 0.46), (7.72, 3.12), (7.83, 3.94), (7.96, 2.31),
    (8.09, 3.12), (8.20, 1.97), (8.33, 2.89), (8.46, 2.08), (8.61, 2.66), (8.75, 1.74), (8.88, 2.43), (8.99, 2.08), (9.14, 3.00), (9.27, 1.50), (9.40, 2.66), (9.55, 1.85), (9.70, 3.12), (9.83, 2.08), (9.96, 2.55),
    (10.11, 1.74), (10.26, 2.89), (10.39, 2.31), (10.52, 0.69), (10.64, 2.43), (10.77, 3.12), (10.90, 1.97), (11.05, 2.89), (11.20, 3.47), (11.33, 1.97), (11.46, 3.12), (11.61, 3.59), (11.76, 2.43), (11.89, 1.74),
    (12.02, 2.66), (12.17, 2.08), (12.32, 3.00), (12.45, 2.20), (12.58, 3.35), (12.73, 1.97), (12.88, 2.66), (13.01, 1.50), (13.15, 2.89), (13.30, 2.08), (13.45, 3.59), (13.58, 2.43), (13.71, 3.12), (13.86, 1.97),
    (14.01, 2.66), (14.14, 0.93), (14.27, 2.43), (14.42, 3.35), (14.57, 2.20), (14.70, 3.00), (14.83, 2.08), (14.98, 1.74), (15.13, 2.43), (15.26, 2.20), (15.39, 2.66), (15.54, 2.08), (15.69, 2.89), (15.82, 3.35), (15.96, 3.70),
    (16.07, 2.66), (16.14, 4.74), (16.25, 3.12), (16.39, 3.59), (16.52, 2.08), (16.63, 3.94), (16.76, 2.66), (16.89, 3.12), (17.04, 2.43), (17.19, 3.00), (17.32, 1.97), (17.45, 2.66), (17.60, 2.20), (17.75, 1.74), (17.88, 2.78),
    (18.01, 3.12), (18.16, 2.08), (18.31, 2.66), (18.45, 3.94), (18.58, 2.43), (18.73, 1.97), (18.88, 2.89), (19.01, 2.43), (19.14, 3.12), (19.29, 2.20), (19.44, 1.85), (19.57, 2.66), (19.70, 2.89), (19.85, 1.97),
    (20.00, 3.70), (20.13, 2.55), (20.26, 3.12), (20.41, 2.20), (20.56, 3.24), (20.69, 2.66), (20.82, 2.89), (20.97, 2.43), (21.12, 2.66), (21.25, 2.08), (21.39, 2.55), (21.54, 2.43), (21.69, 2.66), (21.82, 2.20), (21.95, 2.08),
    (22.10, 2.43), (22.25, 1.97), (22.38, 1.74), (22.47, 0.93), (22.57, 3.47), (22.66, 2.43), (22.75, 3.12), (22.85, 2.08), (22.94, 3.35), (23.07, 2.89), (23.18, 3.35), (23.31, 2.20), (23.45, 1.97), (23.56, 1.62), (23.65, 2.66), (23.75, 2.43), (23.82, 3.00), (23.90, 1.97), (23.97, 1.74), (24.06, 3.12),
    (24.16, 5.44), (24.25, 6.83), (24.31, 8.33), (24.40, 7.98), (24.49, 7.52), (24.57, 7.17), (24.68, 7.06), (24.76, 6.02), (24.87, 5.90), (24.94, 4.51), (25.06, 4.97), (25.13, 3.82), (25.24, 4.05), (25.32, 3.12), (25.43, 3.35), (25.51, 1.74), (25.62, 2.66), (25.75, 1.27), (25.84, 2.43), (25.94, 1.97),
    (26.03, 0.69), (26.12, 2.66), (26.22, 1.04), (26.31, 1.74), (26.40, 2.20), (26.50, 0.81), (26.59, 2.43), (26.69, 1.16), (26.78, 1.85), (26.87, 0.58), (26.97, 2.31), (27.06, 0.93), (27.15, 1.39), (27.25, 0.46), (27.34, 1.85), (27.43, 0.69), (27.53, 1.27), (27.62, 0.12), (27.72, 1.62), (27.81, 0.35), (27.90, 1.04), (28.00, 2.43)]

B3_MV = [(-0.28, -0.5), (-0.10, 0.4), (0.08, -0.8), (0.26, 0.3), (0.44, -0.7), (0.62, 0.4), (0.80, -0.6), (0.98, 0.3), (1.16, -0.8), (1.34, 0.4), (1.52, -0.6), (1.70, 0.3), (1.88, -0.7), (2.06, 0.2), (2.16, -0.5),
    (2.20, 3.5), (2.24, 5.2), (2.30, 4.0), (2.38, 4.4), (2.46, 3.2), (2.56, 3.0), (2.66, 2.2), (2.78, 2.0), (2.90, 1.4), (3.02, 1.6), (3.16, 0.8), (3.30, 1.1), (3.46, 0.2), (3.62, 0.8),
    (3.80, -0.4), (3.98, 0.6), (4.16, -0.5), (4.34, 0.7), (4.52, -0.6), (4.70, 0.5), (4.88, -0.4), (5.06, 0.8), (5.24, -0.5), (5.42, 0.6), (5.60, -0.6), (5.78, 0.5), (5.96, -0.4), (6.14, 0.7), (6.32, -0.5), (6.50, 0.6), (6.68, -0.6), (6.86, 0.5), (7.04, -0.4), (7.22, 0.8), (7.40, -0.5), (7.58, 0.6), (7.76, -0.6), (7.94, 0.5),
    (8.12, -0.4), (8.30, 0.7), (8.48, -0.5), (8.66, 0.6), (8.84, -0.6), (9.02, 0.5), (9.20, -0.4), (9.38, 0.8), (9.56, -0.5), (9.74, 0.6), (9.92, -0.6), (10.10, 0.5), (10.28, -0.4), (10.46, 0.7), (10.64, -0.5), (10.82, 0.6), (11.00, -0.6), (11.18, 0.5), (11.36, -0.4), (11.54, 0.8), (11.72, -0.5), (11.90, 0.6),
    (12.08, -0.6), (12.26, 0.5), (12.44, -0.4), (12.62, 0.7), (12.80, -0.5), (12.98, 0.6), (13.16, -0.6), (13.34, 0.5), (13.52, -0.4), (13.70, 0.8), (13.88, -0.5), (14.06, 0.6), (14.24, -0.6), (14.42, 0.5), (14.60, -0.4), (14.78, 0.7), (14.96, -0.5), (15.14, 0.6), (15.32, -0.6), (15.50, 0.5), (15.68, -0.4), (15.86, 0.8),
    (16.04, -0.5), (16.22, 0.6), (16.40, -0.6), (16.58, 0.5), (16.76, -0.4), (16.94, 0.7), (17.12, -0.5), (17.30, 0.6), (17.48, -0.6), (17.66, 0.5), (17.84, -0.4), (18.02, 0.8), (18.20, -0.5), (18.38, 0.6), (18.56, -0.6), (18.74, 0.5), (18.92, -0.4), (19.10, 0.7), (19.28, -0.5), (19.46, 1.5), (19.64, -0.6), (19.82, 0.5),
    (20.00, -0.4), (20.18, 0.8), (20.36, -0.5), (20.54, 0.6), (20.72, -0.6), (20.90, 0.5), (21.08, -0.4), (21.26, 0.7), (21.44, -0.5), (21.62, 0.6), (21.80, -0.6), (21.98, 0.5), (22.16, -0.4), (22.34, 1.4), (22.52, -0.5), (22.70, 0.6), (22.88, -0.6), (23.06, 0.5), (23.24, -0.4), (23.42, 0.7), (23.60, -0.5), (23.78, 0.6), (23.96, -0.6), (24.14, 0.5), (24.28, -0.4),
    (24.32, 3.8), (24.36, 5.0), (24.42, 3.6), (24.50, 4.0), (24.58, 3.0), (24.68, 3.2), (24.78, 2.4), (24.90, 2.6), (25.02, 1.8), (25.14, 2.0), (25.26, 1.2), (25.40, 1.4), (25.54, 0.6), (25.68, 0.9), (25.82, 0.1),
    (26.00, 0.7), (26.18, -0.3), (26.36, 0.6), (26.54, -0.4), (26.72, 0.7), (26.90, -0.3), (27.08, 0.6), (27.26, -0.4), (27.44, 0.8), (27.62, -0.3), (27.80, 0.9), (27.90, -0.2)]

# scale-bar values (units of each trace) and their labels
SCALE_VALUES = [80, 125, 30, 100, 25, 25, 80, 125, 5, 50, 5, 25]
SCALE_LABELS = ["80 µV", "125 µV", "30 % ΔF/F", "100 pA", "25 % ΔF/F", "25 mV",
                "80 µV", "125 µV", "5 % ΔF/F", "50 pA", "5 % ΔF/F", "25 mV"]
TIME_BAR_S = 5
PANEL_LABELS = ["A1", "A2", "A3", "B1", "B2", "B3"]
REGION_LABELS = ["CA3", "DG"]
CONDITION = "CPP/ NBQX"

# ---------------- layout (pixels) ----------------
GRAY = "#808080"
ORANGE = "#F39A1E"
RED = "#C00000"
CYAN = "#00B0F0"
BLACK = "#000000"
FONT = "Lato"

PX_PER_S = 17.8
COLS = {  # x domain px, px of t=0, px of scale bar
    "L": dict(x0=145, x1=682, t0=163, bar=153),
    "R": dict(x0=775, x1=1300, t0=790, bar=787),
}
# data, colour, width, column, top px, bottom px, px of value 0, units/px, scale bar bottom px
PANELS = [
    (A1_CA3, GRAY, 2.6, "L", 0, 178, 88, 80 / 75, 153),
    (A1_DG, BLACK, 3.0, "L", 178, 345, 268, 125 / 66, 330),
    (A2_CA, ORANGE, 2.4, "L", 355, 522, 515, 30 / 68, 515),
    (A2_PA, RED, 1.8, "L", 525, 685, 582, 100 / 72, 670),
    (A3_CA, ORANGE, 2.4, "L", 700, 882, 870, 25 / 72, 870),
    (A3_MV, CYAN, 1.6, "L", 865, 1035, 1000, 25 / 72, 1022),
    (B1_CA3, GRAY, 3.0, "R", 0, 178, 88, 80 / 73, 153),
    (B1_DG, BLACK, 3.0, "R", 178, 345, 266, 125 / 63, 330),
    (B2_CA, ORANGE, 2.2, "R", 355, 525, 515, 5 / 73, 515),
    (B2_PA, RED, 3.0, "R", 528, 685, 579, 50 / 71, 668),
    (B3_CA, ORANGE, 2.2, "R", 700, 882, 870, 5 / 72, 870),
    (B3_MV, CYAN, 3.0, "R", 882, 1045, 1000, 25 / 72, 1022),
]

fig = go.Figure()
layout_axes = {}
shapes = []
for i, (data, color, lw, col, top, bot, zero, upp, barbot) in enumerate(PANELS, start=1):
    c = COLS[col]
    sfx = "" if i == 1 else str(i)
    layout_axes["xaxis" + sfx] = dict(
        domain=[c["x0"] / W, c["x1"] / W],
        range=[(c["x0"] - c["t0"]) / PX_PER_S, (c["x1"] - c["t0"]) / PX_PER_S],
        visible=False, anchor="y" + sfx, fixedrange=True)
    layout_axes["yaxis" + sfx] = dict(
        domain=[1 - bot / H, 1 - top / H],
        range=[(zero - bot) * upp, (zero - top) * upp],
        visible=False, anchor="x" + sfx, fixedrange=True)
    t = [p[0] for p in data]
    v = [p[1] for p in data]
    fig.add_trace(go.Scatter(x=t, y=v, mode="lines", line=dict(color=color, width=lw),
                             xaxis="x" + sfx, yaxis="y" + sfx, hoverinfo="skip", showlegend=False))
    # vertical scale bar
    bar_t = (c["bar"] - c["t0"]) / PX_PER_S
    lo = (zero - barbot) * upp
    shapes.append(dict(type="line", xref="x" + sfx, yref="y" + sfx,
                       x0=bar_t, x1=bar_t, y0=lo, y1=lo + SCALE_VALUES[i - 1],
                       line=dict(color=BLACK, width=3)))

# 5 s time bar in the last panel
last = PANELS[-1]
tb_y = (last[6] - 1033) * last[7]
tb_end = (1290 - COLS["R"]["t0"]) / PX_PER_S
shapes.append(dict(type="line", xref="x12", yref="y12", x0=tb_end - TIME_BAR_S, x1=tb_end,
                   y0=tb_y, y1=tb_y, line=dict(color=BLACK, width=3)))

ann = []
def A(text, xpx, ypx, size, color=BLACK, angle=0, bold=False, xanchor="center"):
    ann.append(dict(text=("<b>%s</b>" % text) if bold else text, x=xpx / W, y=1 - ypx / H,
                    xref="paper", yref="paper", showarrow=False, textangle=angle,
                    xanchor=xanchor, yanchor="middle",
                    font=dict(family=FONT, size=size, color=color)))

# panel letters
for lab, (xp, yp) in zip(PANEL_LABELS, [(36, 40), (36, 385), (36, 750), (700, 40), (700, 385), (700, 750)]):
    A(lab, xp, yp, 39, bold=True)
A(REGION_LABELS[0], 80, 108, 35, color="#A6A6A6", angle=-90, bold=True)
A(REGION_LABELS[1], 93, 278, 33, angle=-90, bold=True)
A(CONDITION, 1026, 37, 30)
# scale-bar labels
lab_pos = [(134, 113), (134, 282), (134, 443), (134, 617), (134, 800), (134, 977),
           (767, 115), (767, 282), (761, 455), (766, 626), (761, 806), (766, 978)]
for lab, (xp, yp) in zip(SCALE_LABELS, lab_pos):
    A(lab, xp, yp, 29, angle=-90)
A("%d s" % TIME_BAR_S, 1270, 1055, 30)

fig.update_layout(width=W, height=H, margin=dict(l=0, r=0, t=0, b=0),
                  paper_bgcolor="white", plot_bgcolor="rgba(0,0,0,0)",
                  shapes=shapes, annotations=ann, showlegend=False, **layout_axes)
fig.write_html("out.html", config={"displayModeBar": False},
               post_script="document.body.style.margin='0px';")
